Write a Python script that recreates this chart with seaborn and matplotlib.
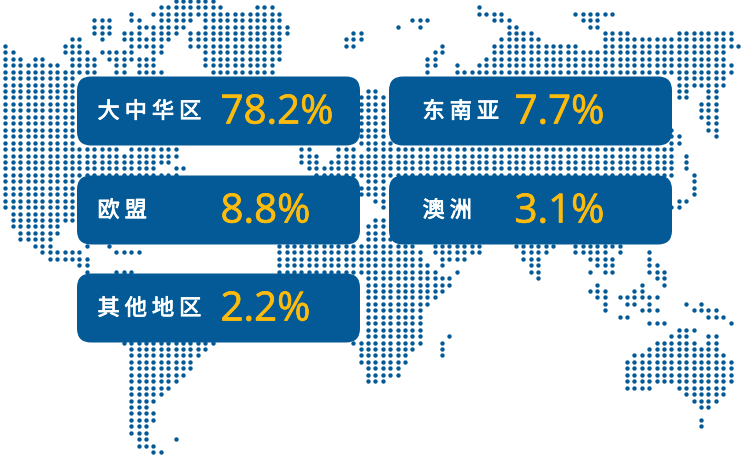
import matplotlib
matplotlib.use("Agg")
import matplotlib.pyplot as plt
import matplotlib.patheffects as pe
from matplotlib.patches import FancyBboxPatch
import pandas as pd
import seaborn as sns

BLUE = "#045a96"
GOLD = "#fdbb0d"

# Share per region
regions = ["大中华区", "东南亚", "欧盟", "澳洲", "其他地区"]
shares = ["78.2%", "7.7%", "8.8%", "3.1%", "2.2%"]
# (grid row, [(first column, last column), ...]) of the dotted world map
land_rows = [
 [(23,28)],
 [(21,29),(34,36),(64,64)],
 [(17,17),(20,37),(64,67),(77,82)],
 [(12,14),(17,18),(21,25),(27,37),(55,57),(66,68),(78,80)],
 [(12,14),(18,24),(27,38),(53,53),(56,56),(68,69),(79,80)],
 [(12,14),(16,18),(20,23),(25,38),(47,48),(68,71),(81,84),(91,98)],
 [(9,10),(13,13),(16,22),(25,37),(46,48),(67,72),(81,98)],
 [(0,0),(8,10),(17,21),(25,37),(46,47),(59,59),(66,77),(81,99)],
 [(0,1),(8,11),(13,17),(20,21),(27,37),(58,59),(66,97)],
 [(0,2),(4,5),(9,12),(14,20),(27,37),(57,58),(65,97)],
 [(0,7),(9,12),(15,16),(18,20),(27,36),(57,58),(61,61),(64,98)],
 [(0,8),(9,12),(15,16),(18,21),(28,36),(57,57),(61,98)],
 [(0,9),(91,97)],
 [(0,9),(91,97)],
 [(0,9),(49,50),(91,92),(95,96)],
 [(0,9),(48,51),(91,92),(95,96)],
 [(0,9),(48,51),(94,96)],
 [(0,9),(48,51),(94,96)],
 [(0,9),(48,51),(94,96)],
 [(0,9),(48,51),(95,96)],
 [(0,9),(48,51),(90,90),(95,96)],
 [(0,9),(48,51),(90,91),(96,96)],
 [(0,9),(48,52),(90,91)],
 [(0,15),(17,23),(40,41),(45,47),(49,90)],
 [(0,23),(40,42),(45,90),(92,92)],
 [(0,22),(40,42),(44,90),(92,92)],
 [(0,20),(23,24),(41,90),(92,92)],
 [(0,23),(42,90),(93,93)],
 [(0,9),(49,51),(93,93)],
 [(0,9),(48,51),(93,93)],
 [(0,9),(48,51),(93,93)],
 [(0,9),(50,51),(91,92)],
 [(0,9),(51,51),(90,91)],
 [(1,9)],
 [(1,9),(50,51)],
 [(1,7),(49,51)],
 [(2,7),(49,51)],
 [(2,6),(49,52)],
 [(4,6),(11,11),(14,14),(37,55),(58,64),(69,74),(77,83)],
 [(5,10),(15,18),(37,56),(58,64),(70,73),(77,81),(83,83),(87,87)],
 [(6,11),(37,56),(59,62),(70,72),(79,82),(87,87)],
 [(10,11),(37,57),(59,59),(71,72),(80,82),(87,88)],
 [(11,11),(15,17),(37,58),(61,61),(71,72),(79,79),(81,82),(87,89)],
 [(49,60),(72,72),(88,89)],
 [(49,60),(80,80),(86,86),(89,89)],
 [(49,59),(79,81),(85,86)],
 [(49,58),(80,81),(83,88)],
 [(49,57),(81,81),(84,85),(87,87),(92,92),(94,94)],
 [(49,56),(81,81),(86,88),(93,96)],
 [(49,56),(83,84),(95,97)],
 [(49,56),(87,89),(98,98)],
 [(49,56),(91,93)],
 [(49,56),(60,60),(90,92),(95,96)],
 [(16,28),(47,56),(59,59),(88,93),(95,96)],
 [(17,27),(48,55),(59,59),(87,96)],
 [(17,26),(48,54),(59,59),(85,97)],
 [(17,25),(48,54),(84,98)],
 [(17,25),(49,53),(84,98)],
 [(17,24),(49,53),(84,98)],
 [(17,23),(49,51),(84,98)],
 [(17,22),(84,87),(91,97)],
 [(17,21),(92,97)],
 [(17,20),(93,96)],
 [(17,19),(94,95)],
 [(17,20)],
 [(17,20),(94,94)],
 [(17,19),(94,94)],
 [(17,19)],
 [(18,19),(23,23)],
 [(18,20)],
 [(20,21)],
]

rows, cols = [], []
for r, spans in enumerate(land_rows):
    for a, b in spans:
        for c in range(a, b + 1):
            rows.append(r)
            cols.append(c)
dots = pd.DataFrame({"x": [5.3 + 7.4 * c for c in cols],
                     "y": [1.7 + 6.45 * r for r in rows]})

sns.set_theme(style="white")
plt.rcParams["font.family"] = ["Noto Sans CJK SC", "DejaVu Sans"]

fig = plt.figure(figsize=(7.5, 4.56), dpi=100)
ax = fig.add_axes([0, 0, 1, 1])
sns.scatterplot(data=dots, x="x", y="y", ax=ax, s=10, color=BLUE, linewidth=0, zorder=1, legend=False)
ax.set_xlim(0, 750)
ax.set_ylim(456, 0)
ax.axis("off")

layout = [(77, 77.5, 283), (389, 77.5, 283), (77, 176.5, 283), (389, 176.5, 283), (77, 274.5, 283)]
value_x = [220.5, 514.5, 220.5, 514.5, 220.5]
label_x = [97.5, 422.5, 97.5, 422.5, 97.5]
spaced = {n: " ".join(n) for n in regions}
for name, share, (x, y, w), vx, lx in zip(regions, shares, layout, value_x, label_x):
    h = 69
    ax.add_patch(FancyBboxPatch((x + 14, y + 14), w - 28, h - 28,
                                boxstyle="round,pad=14,rounding_size=14",
                                fc=BLUE, ec="none", zorder=2))
    ax.text(lx, y + 35, spaced[name], color="white", fontsize=16, va="center", ha="left", zorder=3,
            path_effects=[pe.withStroke(linewidth=0.6, foreground="white")])
    ax.text(vx, y + 47, share, color=GOLD, fontsize=29, va="baseline", ha="left",
            family=["Open Sans", "DejaVu Sans"], zorder=3,
            path_effects=[pe.withStroke(linewidth=0.5, foreground=GOLD)])

fig.savefig("out.png", dpi=100, facecolor="white")
